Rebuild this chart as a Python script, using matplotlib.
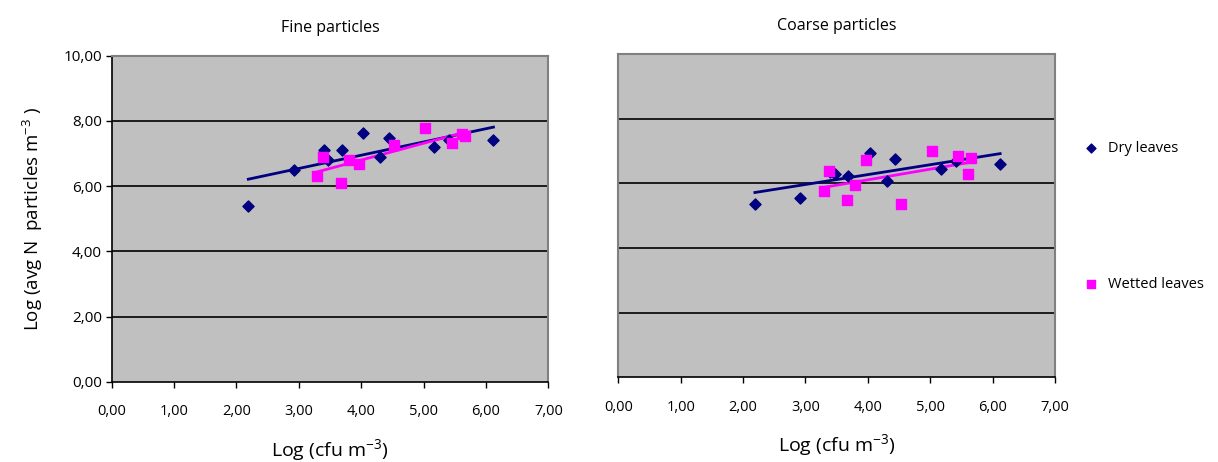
import numpy as np
import matplotlib
matplotlib.use("Agg")
import matplotlib.pyplot as plt
from matplotlib.ticker import FuncFormatter, MultipleLocator

plt.rcParams['font.family'] = ['Open Sans', 'DejaVu Sans']

# Log (cfu m-3) values, same for both particle sizes
dry_x = [2.19, 2.92, 3.40, 3.47, 3.69, 4.03, 4.30, 4.44, 5.17, 5.41, 6.12]
wet_x = [3.29, 3.38, 3.67, 3.80, 3.97, 4.53, 5.03, 5.45, 5.61, 5.66]

# Fine particles
fine_dry_y = [5.38, 6.48, 7.11, 6.81, 7.11, 7.62, 6.89, 7.48, 7.19, 7.42, 7.40]
fine_wet_y = [6.30, 6.89, 6.09, 6.79, 6.69, 7.25, 7.78, 7.32, 7.61, 7.53]

# Coarse particles
coarse_dry_y = [5.35, 5.56, 6.35, 6.30, 6.24, 6.95, 6.08, 6.74, 6.44, 6.70, 6.61]
coarse_wet_y = [5.76, 6.39, 5.47, 5.95, 6.72, 5.36, 6.99, 6.84, 6.28, 6.77]

titles = ['Fine particles', 'Coarse particles']
DRY_COLOR = '#000080'
WET_COLOR = '#ff00ff'

fmt = FuncFormatter(lambda v, p: f"{v:.2f}".replace('.', ','))


def trend(ax, x, y, color):
    x = np.asarray(x)
    k, b = np.polyfit(x, y, 1)
    xs = np.array([x.min(), x.max()])
    ax.plot(xs, k * xs + b, color=color, linewidth=2.0, zorder=3)


def style_axes(ax, show_y):
    ax.set_facecolor('#c0c0c0')
    ax.set_xlim(0, 7)
    ax.set_ylim(0, 10)
    ax.xaxis.set_major_locator(MultipleLocator(1))
    ax.yaxis.set_major_locator(MultipleLocator(2))
    ax.xaxis.set_major_formatter(fmt)
    ax.yaxis.set_major_formatter(fmt)
    for yv in [2, 4, 6, 8]:
        ax.axhline(yv, color='black', linewidth=1.2, zorder=1)
    for s in ['top', 'right']:
        ax.spines[s].set_color('#808080')
        ax.spines[s].set_linewidth(1.5)
    ax.spines['bottom'].set_color('black')
    ax.spines['bottom'].set_linewidth(1.2)
    ax.tick_params(axis='x', direction='out', length=4, width=1, pad=12, labelsize=10.5)
    if show_y:
        ax.spines['left'].set_color('black')
        ax.spines['left'].set_linewidth(1.2)
        ax.tick_params(axis='y', direction='out', length=4, width=1, pad=3, labelsize=11)
    else:
        ax.spines['left'].set_color('#808080')
        ax.spines['left'].set_linewidth(1.5)
        ax.tick_params(axis='y', left=False, labelleft=False)


fig = plt.figure(figsize=(12.18, 4.62), dpi=100)
ax1 = fig.add_axes([0.0917, 0.1738, 0.3585, 0.7056])
ax2 = fig.add_axes([0.5076, 0.1833, 0.3586, 0.6998])

panels = [(ax1, fine_dry_y, fine_wet_y, True), (ax2, coarse_dry_y, coarse_wet_y, False)]
for i, (ax, dy, wy, show_y) in enumerate(panels):
    style_axes(ax, show_y)
    ax.scatter(dry_x, dy, marker='D', s=32, color=DRY_COLOR, zorder=4, label='Dry leaves')
    ax.scatter(wet_x, wy, marker='s', s=42, color=WET_COLOR, zorder=4, label='Wetted leaves')
    trend(ax, dry_x, dy, DRY_COLOR)
    trend(ax, wet_x, wy, WET_COLOR)
    ax.set_title(titles[i], fontsize=11.5, pad=17)
    ax.set_xlabel(r'Log (cfu m$^{\mathregular{-3}}$)', fontsize=14, labelpad=13)

ax1.set_ylabel(r'Log (avg N  particles m$^{\mathregular{-3}}$ )', fontsize=13.5, labelpad=13)

ax2.legend(loc='upper left', bbox_to_anchor=(1.02, 0.772), frameon=False,
           fontsize=10.5, labelspacing=8.3, handletextpad=0.1, markerscale=0.8,
           scatterpoints=1)

plt.savefig('out.png', dpi=100)
plt.close()
